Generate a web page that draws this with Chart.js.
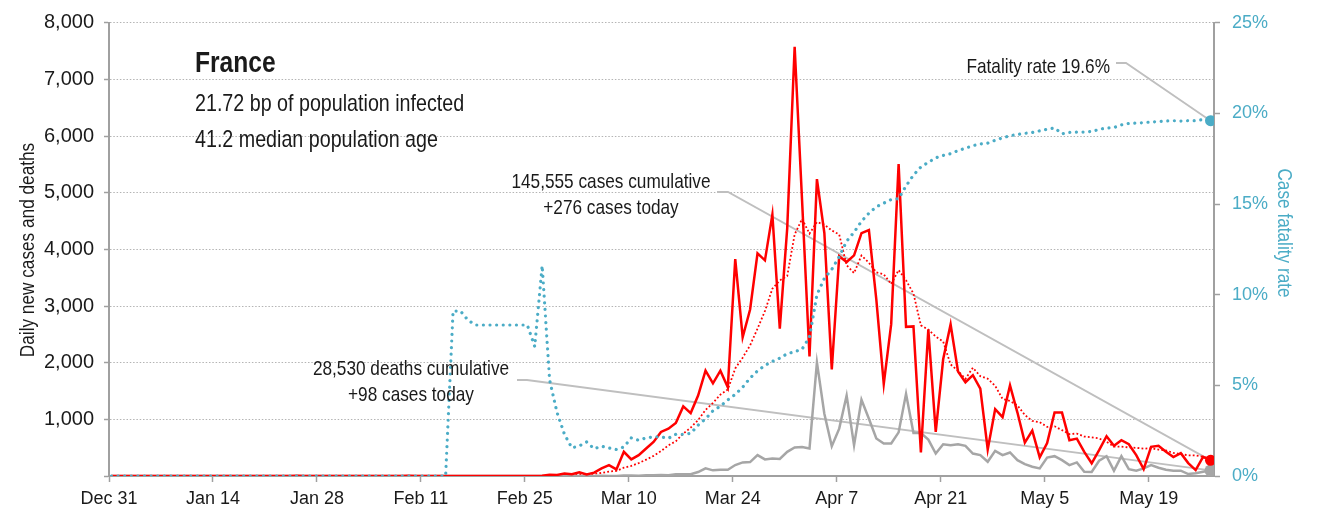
<!DOCTYPE html>
<html>
<head>
<meta charset="utf-8">
<script src="https://cdn.jsdelivr.net/npm/chart.js@4/dist/chart.umd.min.js"></script>
<style>
    html, body { margin: 0; padding: 0; background: #ffffff; }
    canvas { display: block; }
</style>
</head>
<body>
<canvas id="chart" width="1317" height="518"></canvas>
<script>
// Day 0 is Dec 31; one value per day up to May 27
var tick_days = [0, 14, 28, 42, 56, 70, 84, 98, 112, 126, 140];
var tick_labels = ["Dec 31", "Jan 14", "Jan 28", "Feb 11", "Feb 25", "Mar 10", "Mar 24", "Apr 7", "Apr 21", "May 5", "May 19"];

var daily_cases = [
    0, 0, 0, 0, 0, 0, 0, 0, 0, 0, 0, 0, 0, 0,                                  // Dec 31
    0, 0, 0, 0, 0, 0, 0, 0, 0, 0, 0, 3, 0, 0,                                  // Jan 14
    0, 1, 0, 1, 0, 0, 0, 0, 0, 0, 0, 0, 5, 0,                                  // Jan 28
    0, 0, 1, 0, 0, 1, 0, 0, 0, 0, 0, 0, 0, 0,                                  // Feb 11
    0, 2, 3, 21, 19, 43, 30, 65, 28, 60, 135, 193, 117, 427,                   // Feb 25
    293, 368, 485, 602, 778, 836, 935, 1228, 1111, 1421, 1860, 1637, 1860, 1567, // Mar 10
    3830, 2450, 2940, 3930, 3807, 4615, 2600, 4376, 7578, 4861, 2110, 5240, 4290, 1880, // Mar 24
    3880, 3777, 3895, 4286, 4342, 3114, 1625, 2680, 5505, 2633, 2641, 415, 2585, 778,   // Apr 7
    2060, 2675, 1845, 1655, 1780, 1543, 468, 1180, 1040, 1600, 1120, 590, 800, 330,     // Apr 21
    580, 1120, 1120, 632, 661, 427, 225, 456, 702, 532, 632, 561, 368, 123,             // May 5
    515, 532, 427, 333, 403, 228, 105, 339, 276                                         // May 19
];

var daily_deaths = [
    0, 0, 0, 0, 0, 0, 0, 0, 0, 0, 0, 0, 0, 0,
    0, 0, 0, 0, 0, 0, 0, 0, 0, 0, 0, 0, 0, 0,
    0, 0, 0, 0, 0, 0, 0, 0, 0, 0, 0, 0, 0, 0,
    0, 0, 0, 0, 1, 0, 0, 0, 0, 0, 0, 0, 0, 0,
    0, 1, 0, 0, 0, 0, 0, 1, 1, 0, 3, 2, 1, 8,
    11, 6, 12, 15, 16, 15, 31, 29, 30, 70, 135, 100, 110, 110,
    193, 240, 245, 368, 293, 310, 300, 427, 503, 510, 485, 2005, 1100, 526,
    836, 1421, 544, 1345, 1012, 661, 573, 573, 770, 1450, 760, 760, 643, 397,
    561, 544, 561, 532, 397, 368, 251, 444, 368, 415, 280, 210, 164, 135,
    325, 350, 280, 193, 240, 76, 70, 269, 350, 94, 350, 120, 94, 135,
    193, 146, 112, 94, 94, 35, 47, 76, 98
];

// Red dotted line (7 day average of new cases)
var cases_avg = [
    0, 0, 0, 0, 0, 0, 0, 0, 0, 0, 0, 0, 0, 0,
    0, 0, 0, 0, 0, 0, 0, 0, 0, 0, 0, 0, 0, 0,
    0, 0, 0, 0, 0, 0, 0, 0, 0, 0, 0, 0, 0, 0,
    0, 0, 0, 0, 0, 0, 0, 0, 0, 0, 0, 0, 0, 0,
    0, 0, 1, 4, 6, 12, 17, 26, 30, 38, 54, 79, 90, 146,
    179, 228, 288, 355, 439, 541, 614, 747, 854, 987, 1167, 1290, 1436, 1526,
    1898, 2089, 2306, 2602, 2912, 3306, 3453, 3531, 4264, 4538, 4278, 4483, 4436, 4334,
    4263, 3720, 3582, 3893, 3764, 3596, 3560, 3388, 3635, 3455, 3220, 2659, 2583, 2462,
    2374, 1970, 1857, 1716, 1911, 1762, 1718, 1592, 1359, 1324, 1247, 1077, 971, 951,
    866, 877, 809, 739, 749, 696, 681, 663, 603, 519, 519, 505, 497, 482,
    490, 466, 451, 408, 386, 366, 363, 338, 302
];

// Case fatality rate, percent
var fatality_rate = [
    0, 0, 0, 0, 0, 0, 0, 0, 0, 0, 0, 0, 0, 0,
    0, 0, 0, 0, 0, 0, 0, 0, 0, 0, 0, 0, 0, 0,
    0, 0, 0, 0, 0, 0, 0, 0, 0, 0, 0, 0, 0, 0,
    0, 0, 0, 0, 9.1, 9.1, 8.6, 8.33, 8.33, 8.33, 8.33, 8.33, 8.33, 8.33,
    8.33, 7.14, 11.6, 5.3, 3.5, 2.3, 1.55, 1.66, 1.88, 1.5, 1.64, 1.55, 1.46, 1.6,
    2.1, 1.97, 2.1, 2.16, 2.16, 2.08, 2.3, 2.3, 2.35, 2.8, 3.15, 3.6, 3.85, 4.2,
    4.5, 4.9, 5.4, 5.8, 6.1, 6.32, 6.5, 6.75, 6.85, 7.0, 7.66, 10.0, 10.9, 11.4,
    12.1, 12.95, 13.45, 14.05, 14.5, 14.85, 15.05, 15.25, 15.3, 16.0, 16.6, 17.05, 17.3, 17.55,
    17.68, 17.78, 17.95, 18.08, 18.22, 18.32, 18.36, 18.52, 18.65, 18.77, 18.84, 18.9, 18.95, 19.04,
    19.13, 19.2, 18.88, 18.95, 18.97, 18.97, 19.0, 19.12, 19.2, 19.22, 19.37, 19.45, 19.47, 19.49,
    19.53, 19.55, 19.58, 19.6, 19.58, 19.6, 19.6, 19.66, 19.6
];

var FONT = "'Liberation Sans', Arial, sans-serif";
var NARROW = 0.82;  // squeeze Liberation Sans to something like the original condensed face
var TEXT_COLOR = "#1a1a1a";
var AXIS_COLOR = "#a0a0a0";
var CYAN = "#4bacc6";
var RED = "#ff0000";
var GREY = "#a6a6a6";
var DAY_SHIFT = 0.33;  // points sit a third of a day right of the date tick
var last = daily_cases.length - 1;

function to_points (values) {
    return values.map(function (v, i) {
        return {"x": i + DAY_SHIFT, "y": v};
    });
}

function end_dot (radius) {
    return function (ctx) {
        return ctx.dataIndex === last ? radius : 0;
    };
}

function draw_text (ctx, text, x, y, size, align, bold, angle) {
    ctx.save();
    ctx.translate(x, y);

    if (angle) {
        ctx.rotate(angle);
    }

    ctx.scale(NARROW, 1);
    ctx.font = (bold ? "bold " : "") + size + "px " + FONT;
    ctx.textAlign = align;
    ctx.textBaseline = "middle";
    ctx.fillText(text, 0, 0);
    ctx.restore();
}

var notes_plugin = {
    "id": "notes",
    "beforeDatasetsDraw": function (chart) {
        var ctx = chart.ctx;
        var end_x = chart.scales["x"].getPixelForValue(last + DAY_SHIFT);

        var leaders = [
            [1116, 63, 1126, chart.scales["y1"].getPixelForValue(fatality_rate[last])],
            [717, 192, 728, chart.scales["y"].getPixelForValue(daily_cases[last])],
            [517, 380, 527, chart.scales["y"].getPixelForValue(daily_deaths[last])]
        ];

        ctx.save();
        ctx.strokeStyle = "#bfbfbf";
        ctx.lineWidth = 1.8;

        for (var i in leaders) {
            var l = leaders[i];

            ctx.beginPath();
            ctx.moveTo(l[0], l[1]);
            ctx.lineTo(l[2], l[1]);
            ctx.lineTo(end_x, l[3]);
            ctx.stroke();
        }

        ctx.restore();
    },
    "afterDatasetsDraw": function (chart) {
        var ctx = chart.ctx;

        ctx.save();
        ctx.fillStyle = TEXT_COLOR;

        draw_text(ctx, "France", 195, 64, 30, "left", true);
        draw_text(ctx, "21.72 bp of population infected", 195, 104, 24, "left");
        draw_text(ctx, "41.2 median population age", 195, 140, 24, "left");

        draw_text(ctx, "Fatality rate 19.6%", 1110, 67, 21, "right");
        draw_text(ctx, "145,555 cases cumulative", 611, 182, 21, "center");
        draw_text(ctx, "+276 cases today", 611, 208, 21, "center");
        draw_text(ctx, "28,530 deaths cumulative", 411, 369, 21, "center");
        draw_text(ctx, "+98 cases today", 411, 395, 21, "center");

        // Axis titles
        draw_text(ctx, "Daily new cases and deaths", 28, 250, 21, "center", false, -Math.PI / 2);

        ctx.fillStyle = CYAN;
        draw_text(ctx, "Case fatality rate", 1284, 233, 21, "center", false, Math.PI / 2);

        ctx.restore();
    }
};

Chart.defaults.font.family = FONT;
Chart.defaults.color = TEXT_COLOR;

new Chart(document.getElementById("chart").getContext("2d"), {
    "type": "line",
    "data": {
        "datasets": [
            {
                "label": "Daily new cases",
                "data": to_points(daily_cases),
                "borderColor": RED,
                "backgroundColor": RED,
                "borderWidth": 2.5,
                "pointRadius": end_dot(5.5),
                "pointBorderWidth": 0,
                "tension": 0
            },
            {
                "label": "Daily new deaths",
                "data": to_points(daily_deaths),
                "borderColor": GREY,
                "backgroundColor": GREY,
                "borderWidth": 2.5,
                "pointRadius": end_dot(6),
                "pointBorderWidth": 0,
                "tension": 0
            },
            {
                "label": "7 day average",
                "data": to_points(cases_avg),
                "borderColor": RED,
                "borderWidth": 1.8,
                "borderDash": [1.8, 2.2],
                "pointRadius": 0,
                "tension": 0
            },
            {
                "label": "Case fatality rate",
                "data": to_points(fatality_rate),
                "yAxisID": "y1",
                "order": -1,
                "borderColor": CYAN,
                "backgroundColor": CYAN,
                "borderWidth": 3.2,
                "borderDash": [0.01, 6.6],
                "borderCapStyle": "round",
                "pointRadius": end_dot(5.5),
                "pointBorderWidth": 0,
                "tension": 0
            }
        ]
    },
    "options": {
        "responsive": false,
        "devicePixelRatio": 1,
        "animation": false,
        "layout": {
            "padding": {"top": 20, "left": 0, "right": 0, "bottom": 0}
        },
        "scales": {
            "x": {
                "type": "linear",
                "min": 0,
                "max": 148.8,
                "afterFit": function (s) { s.height = 42; },
                "afterBuildTicks": function (s) {
                    s.ticks = tick_days.map(function (d) { return {"value": d}; });
                },
                "ticks": {
                    "autoSkip": false,
                    "maxRotation": 0,
                    "padding": 6,
                    "color": TEXT_COLOR,
                    "font": {"size": 18},
                    "callback": function (v) {
                        return tick_labels[tick_days.indexOf(v)];
                    }
                },
                "grid": {
                    "drawOnChartArea": false,
                    "drawTicks": true,
                    "tickLength": 6,
                    "tickColor": AXIS_COLOR,
                    "tickWidth": 1.5
                },
                "border": {"color": AXIS_COLOR, "width": 2}
            },
            "y": {
                "position": "left",
                "min": 0,
                "max": 8000,
                "afterFit": function (s) { s.width = 109; },
                "ticks": {
                    "stepSize": 1000,
                    "padding": 10,
                    "color": TEXT_COLOR,
                    "font": {"size": 20},
                    "callback": function (v) {
                        return v === 0 ? "" : v.toLocaleString("en-US");
                    }
                },
                "grid": {
                    "color": "#b4b4b4",
                    "lineWidth": 1,
                    "drawTicks": true,
                    "tickLength": 5,
                    "tickColor": AXIS_COLOR,
                    "tickWidth": 1.5
                },
                "border": {"color": AXIS_COLOR, "width": 2, "dash": [1.5, 1.8]}
            },
            "y1": {
                "position": "right",
                "min": 0,
                "max": 25,
                "afterFit": function (s) { s.width = 103; },
                "ticks": {
                    "stepSize": 5,
                    "padding": 12,
                    "color": CYAN,
                    "font": {"size": 18},
                    "callback": function (v) { return v + "%"; }
                },
                "grid": {
                    "drawOnChartArea": false,
                    "drawTicks": true,
                    "tickLength": 6,
                    "tickColor": AXIS_COLOR,
                    "tickWidth": 1.5
                },
                "border": {"color": AXIS_COLOR, "width": 2}
            }
        },
        "plugins": {
            "legend": {"display": false},
            "tooltip": {"enabled": false},
            "title": {"display": false}
        }
    },
    "plugins": [notes_plugin]
});
</script>
</body>
</html>
